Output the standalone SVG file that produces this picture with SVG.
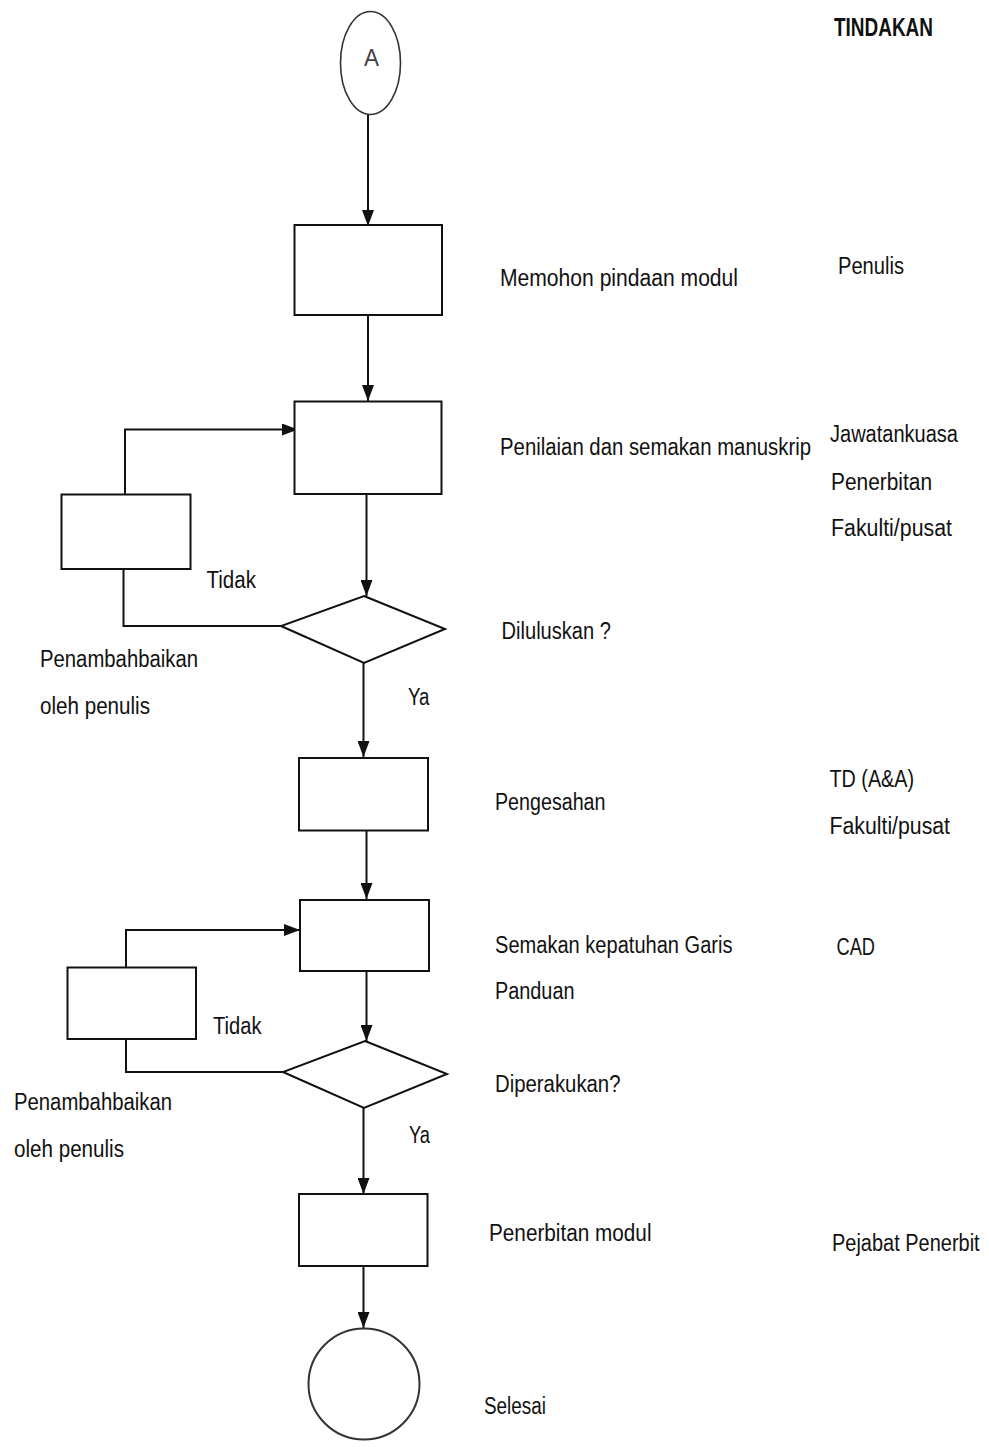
<svg xmlns="http://www.w3.org/2000/svg" width="989" height="1447" viewBox="0 0 989 1447">
<style>
.box{fill:#fff;stroke:#111;stroke-width:2}
.term{fill:#fff;stroke:#333;stroke-width:1.6}
.ln{fill:none;stroke:#111;stroke-width:2}
text{font-family:"Liberation Sans",Arial,sans-serif;font-size:23.5px;fill:#111}
.b{font-weight:bold}
</style>
<defs>
<marker id="ah" markerUnits="userSpaceOnUse" markerWidth="16" markerHeight="12" refX="16" refY="6" orient="auto">
<path d="M0,0 L16,6 L0,12 z" fill="#111"/>
</marker>
</defs>
<rect width="989" height="1447" fill="#fff"/>
<g id="connectors">
<line class="ln" x1="368" y1="115" x2="368" y2="226" marker-end="url(#ah)"/>
<line class="ln" x1="368" y1="315" x2="368" y2="401" marker-end="url(#ah)"/>
<line class="ln" x1="366.5" y1="494" x2="366.5" y2="596" marker-end="url(#ah)"/>
<line class="ln" x1="363.5" y1="663" x2="363.5" y2="757" marker-end="url(#ah)"/>
<line class="ln" x1="366.5" y1="830" x2="366.5" y2="899" marker-end="url(#ah)"/>
<line class="ln" x1="366.5" y1="971" x2="366.5" y2="1041" marker-end="url(#ah)"/>
<line class="ln" x1="363.5" y1="1108" x2="363.5" y2="1194" marker-end="url(#ah)"/>
<line class="ln" x1="363.5" y1="1266" x2="363.5" y2="1328" marker-end="url(#ah)"/>
<polyline class="ln" points="281,626 123.5,626 123.5,569"/>
<polyline class="ln" points="125,494 125,429.5 298,429.5" marker-end="url(#ah)"/>
<polyline class="ln" points="283,1072 126,1072 126,1039"/>
<polyline class="ln" points="126,967 126,930 300,930" marker-end="url(#ah)"/>
</g>
<g id="start">
<ellipse class="term" cx="370.5" cy="63" rx="30" ry="51.5"/>
<text x="364" y="66" textLength="15" lengthAdjust="spacingAndGlyphs" style="font-size:24px;fill:#444">A</text>
</g>
<g id="tindakan"><text class="b" x="834" y="36" textLength="99" lengthAdjust="spacingAndGlyphs" style="font-size:25px">TINDAKAN</text></g>
<g id="box1">
<rect class="box" x="294.5" y="225" width="147.5" height="90"/>
<text x="500" y="286" textLength="238" lengthAdjust="spacingAndGlyphs">Memohon pindaan modul</text>
<text x="838" y="274" textLength="66" lengthAdjust="spacingAndGlyphs">Penulis</text>
</g>
<g id="box2">
<rect class="box" x="294.5" y="401.5" width="147" height="92.5"/>
<text x="500" y="455" textLength="311" lengthAdjust="spacingAndGlyphs">Penilaian dan semakan manuskrip</text>
<text x="830" y="442" textLength="128" lengthAdjust="spacingAndGlyphs">Jawatankuasa</text>
<text x="831" y="490" textLength="101" lengthAdjust="spacingAndGlyphs">Penerbitan</text>
<text x="831" y="536" textLength="121" lengthAdjust="spacingAndGlyphs">Fakulti/pusat</text>
</g>
<g id="fix1">
<rect class="box" x="61.5" y="494.5" width="129" height="74.5"/>
<text x="40" y="667" textLength="158" lengthAdjust="spacingAndGlyphs">Penambahbaikan</text>
<text x="40" y="714" textLength="110" lengthAdjust="spacingAndGlyphs">oleh penulis</text>
</g>
<g id="decision1">
<polygon class="box" points="364,596 445,629 364,663 281,626"/>
<text x="206.5" y="588" textLength="49.5" lengthAdjust="spacingAndGlyphs">Tidak</text>
<text x="408" y="705" textLength="21.5" lengthAdjust="spacingAndGlyphs">Ya</text>
<text x="501.5" y="639" textLength="109.5" lengthAdjust="spacingAndGlyphs">Diluluskan ?</text>
</g>
<g id="box3">
<rect class="box" x="299" y="758" width="129" height="72.5"/>
<text x="495" y="810" textLength="110.5" lengthAdjust="spacingAndGlyphs">Pengesahan</text>
<text x="829.5" y="787" textLength="84.5" lengthAdjust="spacingAndGlyphs">TD (A&amp;A)</text>
<text x="829.5" y="834" textLength="120.5" lengthAdjust="spacingAndGlyphs">Fakulti/pusat</text>
</g>
<g id="box4">
<rect class="box" x="300" y="900" width="129" height="71"/>
<text x="495" y="953" textLength="237.5" lengthAdjust="spacingAndGlyphs">Semakan kepatuhan Garis</text>
<text x="495" y="999" textLength="79.5" lengthAdjust="spacingAndGlyphs">Panduan</text>
<text x="836.5" y="955" textLength="38.5" lengthAdjust="spacingAndGlyphs">CAD</text>
</g>
<g id="fix2">
<rect class="box" x="67.5" y="967.5" width="128.5" height="71.5"/>
<text x="14" y="1110" textLength="158" lengthAdjust="spacingAndGlyphs">Penambahbaikan</text>
<text x="14" y="1157" textLength="110" lengthAdjust="spacingAndGlyphs">oleh penulis</text>
</g>
<g id="decision2">
<polygon class="box" points="365,1041 447,1074 364,1108 283,1072"/>
<text x="213" y="1034" textLength="48.5" lengthAdjust="spacingAndGlyphs">Tidak</text>
<text x="409" y="1143" textLength="21" lengthAdjust="spacingAndGlyphs">Ya</text>
<text x="495" y="1092" textLength="125.5" lengthAdjust="spacingAndGlyphs">Diperakukan?</text>
</g>
<g id="box5">
<rect class="box" x="299" y="1194" width="128.5" height="72"/>
<text x="489" y="1241" textLength="162.5" lengthAdjust="spacingAndGlyphs">Penerbitan modul</text>
<text x="0" y="0" transform="translate(832 1251) scale(0.85 1)">Pejabat Penerbit</text>
</g>
<g id="end">
<circle class="term" cx="364" cy="1384" r="55.5" style="stroke-width:2"/>
<text x="484" y="1414" textLength="62" lengthAdjust="spacingAndGlyphs">Selesai</text>
</g>
</svg>
